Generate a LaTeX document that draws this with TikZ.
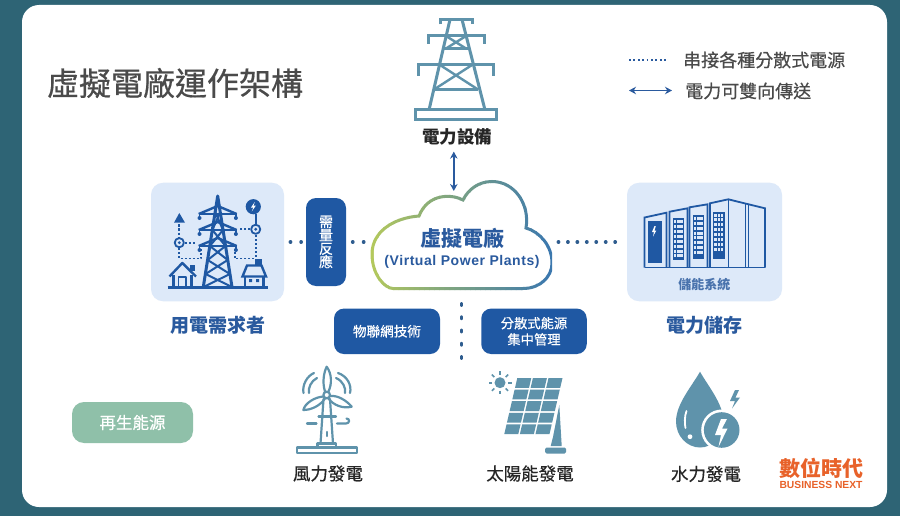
\documentclass[tikz,border=0pt]{standalone}
\usepackage{fontspec}
\setmainfont{Noto Sans CJK TC}
\newfontfamily\medfont[FakeBold=0.5]{Noto Sans CJK TC}
\newfontfamily\latinfont[LetterSpace=4]{Liberation Sans}
\newfontfamily\logofont{Liberation Sans}
\usetikzlibrary{arrows.meta}
\newcommand{\fpx}[1]{\fontsize{#1}{#1}\selectfont}
\definecolor{deepteal}{HTML}{2E6475}
\definecolor{navy}{HTML}{1F58A3}
\definecolor{linkblue}{HTML}{2A5A9E}
\definecolor{dotblue}{HTML}{2F5D8F}
\definecolor{pale}{HTML}{DDE9F9}
\definecolor{steel}{HTML}{5F93AB}
\definecolor{sage}{HTML}{8FC0A9}
\definecolor{inkgray}{HTML}{4A4A4A}
\definecolor{logoorange}{HTML}{E8622A}
\definecolor{cloudleft}{HTML}{B4C95C}
\definecolor{cloudright}{HTML}{3C78AE}
\tikzset{
    iconbox/.style={fill=pale,rounded corners=12pt,minimum width=#1,minimum height=118.5pt,inner sep=0pt},
    tagbox/.style={fill=navy,rounded corners=10pt,text=white,inner sep=0pt,align=center},
    caption/.style={font=\medfont\fpx{17.5},text=black!85,inner sep=0pt},
    bluecap/.style={font=\fpx{19}\bfseries,text=linkblue,inner sep=0pt},
    dotlink/.style={draw=dotblue,line width=3.3pt,line cap=round,dash pattern=on 0.5pt off #1},
    bothway/.style={draw=linkblue,line width=1.5pt,{Stealth[length=7pt,width=7.5pt]}-{Stealth[length=7pt,width=7.5pt]}},
    steelline/.style={draw=steel,line width=3pt},
    navyline/.style={draw=navy,line width=2.4pt},
}
\begin{document}
\begin{tikzpicture}[x=1pt,y=-1pt]
    \useasboundingbox (0,0) rectangle (900,516);
    \fill[deepteal] (0,0) rectangle (900,516);
    \fill[white,rounded corners=17pt] (22,5) rectangle (887,507);

    % heading and legend
    \node[font=\medfont\fpx{32},text=inkgray,inner sep=0pt] (title) at (175,83) {虛擬電廠運作架構};
    \coordinate (dotstart) at (629,60);
    \coordinate (dotend) at (667,60);
    \coordinate (arrowstart) at (629,90.5);
    \coordinate (arrowend) at (672,90.5);
    \draw[draw=linkblue,line width=1.8pt,dash pattern=on 1.8pt off 2.6pt] (dotstart) -- (dotend);
    \draw[bothway] (arrowstart) -- (arrowend);
    \node[font=\medfont\fpx{18},text=inkgray,inner sep=0pt,anchor=west] (legenddot) at (683,60) {串接各種分散式電源};
    \node[font=\medfont\fpx{18},text=inkgray,inner sep=0pt,anchor=west] (legendarrow) at (685,91) {電力可雙向傳送};

    % transmission tower on top
    \begin{scope}[steelline,line cap=butt,line join=miter]
        \draw (440,24.5) -- (440,19.5) -- (472,19.5) -- (472,24.5);
        \draw (428,44) -- (428,36) -- (484.5,36) -- (484.5,44);
        \draw (418,76) -- (418,65) -- (493,65) -- (493,76);
        \draw (450,19.5) -- (429,110);
        \draw (462,19.5) -- (485,110);
        \draw (443.5,48.5) -- (469,48.5);
        \draw (434,89.5) -- (478,89.5);
        \draw[line width=2.4pt] (446,36) -- (466,48.5) (466,36) -- (446,48.5);
        \draw[line width=2.4pt] (440,65) -- (478,89.5) (472,65) -- (434,89.5);
        \draw (415.5,109.5) rectangle (496,120);
    \end{scope}
    \node[caption,font=\fpx{17.5}\bfseries] (equip) at (457,136.5) {電力設備};

    % consumer panel
    \node[iconbox=133pt] (userbox) at (217.5,242) {};
    \begin{scope}[navyline,line join=round]
        \draw[line width=2.6pt] (167.5,287.5) -- (267.5,287.5);
        \draw[line width=3pt] (203.3,287) -- (217.7,196) -- (232,287);
        \foreach \ya/\yb in {212/230,230/246,246/260,260/274,274/287} {
            \pgfmathsetmacro{\wa}{14.2*(\ya-196)/90.7}
            \pgfmathsetmacro{\wb}{14.2*(\yb-196)/90.7}
            \draw[line width=2pt] (217.7-\wa,\ya) -- (217.7+\wb,\yb) (217.7+\wa,\ya) -- (217.7-\wb,\yb);
        }
        \foreach \yarm in {214,230,246} {
            \draw (198.7,\yarm) -- (236.7,\yarm);
            \draw (198.7,\yarm) -- (217.7,\yarm-8) -- (236.7,\yarm);
            \fill[navy] (199.5,\yarm+4) circle[radius=2] (235.9,\yarm+4) circle[radius=2];
            \draw[line width=1.4pt] (199.5,\yarm) -- (199.5,\yarm+4) (235.9,\yarm) -- (235.9,\yarm+4);
        }
        % left house
        \draw (169.5,276.5) -- (182.3,263) -- (196,276.5);
        \draw (173.5,275) -- (173.5,287) (191.5,275) -- (191.5,287);
        \draw[line width=1.8pt] (178.5,287) -- (178.5,277) -- (186,277) -- (186,287);
        \fill[navy] (190,265) rectangle (195,270.5);
        % right house
        \fill[navy] (255,258.5) rectangle (261.5,265);
        \draw[line join=miter] (242.5,276.5) -- (247,265.5) -- (261.5,265.5) -- (266,276.5) -- cycle;
        \draw (245,276.5) -- (245,287) (263.5,276.5) -- (263.5,287);
        \fill[navy] (249,279) rectangle (252,282) (256,279) rectangle (259,282);
        % signals
        \fill[navy] (179.3,213) -- (185,222.7) -- (174,222.7) -- cycle;
        \draw[line width=1.8pt,dash pattern=on 2.5pt off 1.8pt] (179.3,224) -- (179.3,237);
        \draw[line width=1.8pt] (179.3,242.7) circle[radius=4.6];
        \fill[navy] (179.3,242.7) circle[radius=1.6];
        \draw[line width=1.8pt,dash pattern=on 2pt off 2pt] (179.3,248) -- (179.3,258.5) -- (201,258.5) -- (201,249);
        \draw[line width=1.8pt,dash pattern=on 2pt off 2pt] (185,242.7) -- (195,242.7);
        \fill[navy] (253.3,206.7) circle[radius=7.6];
        \fill[white] (254.8,202) -- (251,207.5) -- (253.3,207.5) -- (251.8,211.5) -- (255.8,205.6) -- (253.5,205.6) -- cycle;
        \draw[line width=1.8pt] (255.7,214) -- (255.7,224);
        \draw[line width=1.8pt] (255.7,229.3) circle[radius=4.6];
        \fill[navy] (255.7,229.3) circle[radius=1.6];
        \draw[line width=1.8pt,dash pattern=on 2pt off 2pt] (250,229.3) -- (238.5,229.3);
        \draw[line width=1.8pt,dash pattern=on 2pt off 2pt] (256,235) -- (256,258);
        \draw[line width=1.8pt,dash pattern=on 2pt off 2pt] (254,258.5) -- (235,258.5) -- (235,249);
    \end{scope}
    \node[bluecap] (usercap) at (217.5,325) {用電需求者};

    % demand response and the two tags
    \node[tagbox,minimum width=40pt,minimum height=88pt,font=\medfont\fontsize{14}{13.4}\selectfont] (response) at (326,242) {需\\量\\反\\應};
    \node[tagbox,minimum width=106pt,minimum height=45.5pt,font=\medfont\fpx{13.6}] (iot) at (387,331.3) {物聯網技術};
    \node[tagbox,minimum width=105.5pt,minimum height=45.5pt,font=\medfont\fontsize{13.3}{16.3}\selectfont] (manage) at (534,331.3) {分散式能源\\集中管理};

    % cloud
    \node[inner sep=0pt,minimum width=180pt,minimum height=107pt] (vpp) at (461.5,235) {};
    \foreach \i in {0,...,35} {
        \pgfmathsetmacro{\mixval}{min(100,\i*100/35)}
        \begin{scope}
            \clip (368+\i*5.1,175) rectangle (368+\i*5.1+5.6,295);
            \draw[line width=3pt,color=cloudright!\mixval!cloudleft]
                (393,288.5) -- (523,288.5) .. controls (540,288.5) and (552,277) .. (552,263)
                .. controls (552,246) and (540,232) .. (526,228)
                .. controls (530,205) and (515,181.5) .. (492,181.5)
                .. controls (478,181.5) and (468,190) .. (463,200)
                .. controls (452,194) and (428,193) .. (419,216)
                .. controls (393,218) and (372,232) .. (372,254)
                .. controls (372,275) and (385,288.5) .. (393,288.5) -- cycle;
        \end{scope}
    }
    \node[font=\fpx{21}\bfseries,text=linkblue,inner sep=0pt] (vppname) at (462,238) {虛擬電廠};
    \node[font=\latinfont\fpx{14}\bfseries,text=linkblue,inner sep=0pt] (vppen) at (462,261.5) {(Virtual Power Plants)};

    % storage panel
    \node[iconbox=155pt] (storebox) at (704.5,242) {};
    \begin{scope}[navyline,line width=1.8pt,line join=miter]
        \draw (644.5,267.5) -- (644.5,217.5) -- (666.5,212.7) -- (666.5,267.5);
        \draw (669.5,267.5) -- (669.5,211.7) -- (687.5,208.3) -- (687.5,267.5);
        \draw (689.5,267.5) -- (689.5,207.3) -- (707.5,204.3) -- (707.5,267.5);
        \draw (710,267.5) -- (710,203.3) -- (728.3,199.3) -- (748.5,204.3) -- (765,208.3) -- (765,267.5);
        \draw[line width=1pt] (728.3,199.3) -- (728.3,267.5);
        \draw[line width=1pt] (745,203.5) -- (745,267.5);
        \draw (748.5,204.3) -- (748.5,267.5);
        \draw (644.5,267.5) -- (765,267.5);
        \fill[navy] (647.5,220.7) rectangle (661.7,262.7);
        \fill[white] (654.5,226) -- (652,232) -- (654,232) -- (653,236.5) -- (656.3,230.5) -- (654.5,230.5) -- (655.8,226) -- cycle;
        \foreach \xa/\ya/\yb in {672.7/218.3/259.5,692.7/215/258.5,713.3/211.7/258.5} {
            \fill[navy] (\xa,\ya) rectangle (\xa+11.3,\yb);
            \foreach \cx in {0,1,2} {
                \foreach \cy in {0,...,7} {
                    \fill[pale] (\xa+1.1+\cx*3.3,\ya+1.8+\cy*4.9) rectangle (\xa+3.5+\cx*3.3,\ya+4.8+\cy*4.9);
                }
            }
        }
    \end{scope}
    \node[font=\fpx{13}\bfseries,text=linkblue!85!white,inner sep=0pt] (storetext) at (704.3,284.3) {儲能系統};
    \node[bluecap] (storecap) at (704.5,325) {電力儲存};

    % connectors
    \coordinate (cloudtop) at (453.8,191);
    \coordinate (dotsend) at (461.5,359);
    \draw[bothway,shorten <=6.5pt] (equip.south -| cloudtop) -- (cloudtop);
    \draw[dotlink=10.2pt,shorten <=6pt,shorten >=4.5pt] (userbox.east) -- (response.west);
    \draw[dotlink=10.4pt,shorten <=6.3pt,shorten >=7pt] (response.east) -- (vpp.west |- response.east);
    \draw[dotlink=8.95pt,shorten <=6.5pt,shorten >=9pt] (vpp.east |- storebox.west) -- (storebox.west);
    \draw[dotlink=12.25pt,line width=3.9pt,dash pattern=on 1pt off 12.25pt,shorten <=15.3pt] (vpp.south) -- (dotsend);

    % wind turbine
    \node[caption] (windcap) at (328,473.5) {風力發電};
    \begin{scope}[steelline,line width=2.2pt,line join=round,line cap=round]
        \draw[line width=2.4pt] (297,447.5) rectangle (357,452.7);
        \draw (317.5,447.5) -- (317.5,443.5) -- (336,443.5) -- (336,447.5);
        \draw (323.5,399) -- (320.5,443.5) (330,399) -- (333,443.5);
        \draw (326.7,395) circle[radius=3.3];
        \draw (325,391.5) .. controls (322,382) and (324,372) .. (326.7,366.7) .. controls (332,374) and (332,384) .. (328.5,391.5);
        \draw (323.5,396.5) .. controls (315,397) and (305,403) .. (303.3,410) .. controls (311,410) and (320,406) .. (325,398.5);
        \draw (330,396) .. controls (338,395) and (347,401) .. (351.7,406.7) .. controls (343,409) and (333,405) .. (328.5,398.5);
        \draw (303.5,393) .. controls (302,385) and (307,376) .. (314,373);
        \draw (309,393) .. controls (308,388) and (311,381) .. (317,378);
        \draw (350,393) .. controls (352,385) and (347,376) .. (338,373);
        \draw (345,393) .. controls (346,388) and (343,381) .. (336,378);
        \draw (307,423.5) -- (316.5,423.5);
        \draw (337,423.5) -- (346,423.5) .. controls (350,423.5) and (350,418.5) .. (346.5,418.5);
        \draw (318.5,416.5) -- (336,416.5);
        \draw (327,432) -- (327,436);
    \end{scope}

    % solar panel
    \node[caption] (solarcap) at (530,473.5) {太陽能發電};
    \foreach \r in {0,...,4} {
        \foreach \c in {0,1,2} {
            \pgfmathsetmacro{\ya}{378+\r*11.6}
            \pgfmathsetmacro{\yb}{\ya+9.8}
            \pgfmathsetmacro{\xa}{517.3-(\ya-378)*0.232+\c*15.6}
            \pgfmathsetmacro{\xb}{517.3-(\yb-378)*0.232+\c*15.6}
            \fill[steel] (\xa,\ya) -- (\xa+14,\ya) -- (\xb+14,\yb) -- (\xb,\yb) -- cycle;
        }
    }
    \fill[steel] (559.3,405) -- (561.7,446) -- (550.7,446) -- (553,437) -- cycle;
    \fill[steel,rounded corners=1.5pt] (545,447.5) rectangle (566,453.5);
    \fill[steel] (500,382.7) circle[radius=5.5];
    \foreach \ang in {0,45,...,315} {
        \draw[steelline,line width=1.6pt] (500,382.7) ++(\ang:8) -- ++(\ang:3.5);
    }

    % water drop
    \node[caption] (hydrocap) at (706,474) {水力發電};
    \fill[steel] (700,371.7) .. controls (692,386) and (676,404) .. (676,421.5)
        .. controls (676,436) and (687,447.5) .. (700,447.5)
        .. controls (713,447.5) and (723.5,436) .. (723.5,421.5)
        .. controls (723.5,404) and (708,386) .. (700,371.7) -- cycle;
    \draw[white,line width=1.8pt,line cap=round] (686.5,411) .. controls (684.5,416) and (684.5,424) .. (685.5,428);
    \fill[white] (690,436.7) circle[radius=2.4];
    \fill[white] (721.7,430) circle[radius=20.5];
    \fill[steel] (721.7,430) circle[radius=17.8];
    \fill[white] (721,419) -- (715,435) -- (721,435) -- (718.5,447) -- (727.5,428.5) -- (722,428.5) -- (727,419) -- cycle;
    \fill[steel] (735,390) -- (730,401) -- (735,401) -- (732,408.5) -- (740,397.5) -- (735.5,397.5) -- (739,390) -- cycle;

    % renewable tag and logo
    \node[fill=sage,rounded corners=12pt,minimum width=121pt,minimum height=41pt,font=\medfont\fpx{16.5},text=white,inner sep=0pt] (renew) at (132.5,422.5) {再生能源};
    \node[font=\fpx{21}\bfseries,text=logoorange,inner sep=0pt] (logocn) at (821,468) {數位時代};
    \node[font=\logofont\fpx{10.3}\bfseries,text=logoorange,inner sep=0pt] (logoen) at (821,484.5) {BUSINESS NEXT};
\end{tikzpicture}
\end{document}
